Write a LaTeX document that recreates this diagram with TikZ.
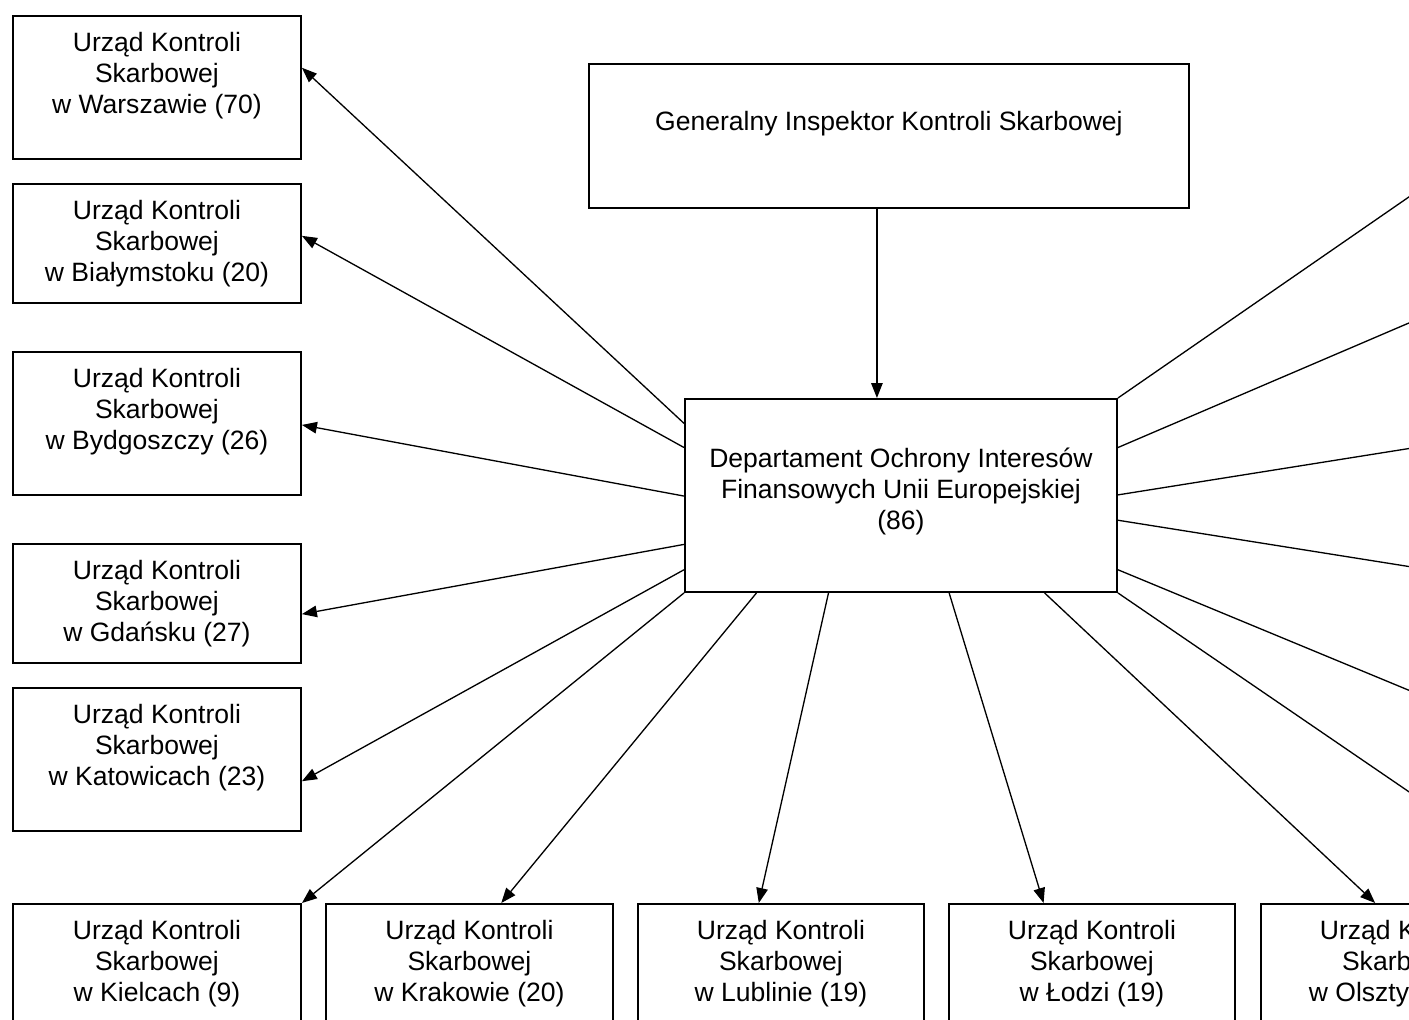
\documentclass[tikz,border=0pt]{standalone}
\usepackage{fontspec}
\setmainfont{Liberation Sans}
\usetikzlibrary{arrows.meta,calc}
\newlength{\pxu}\setlength{\pxu}{0.02cm}
\newcommand{\boxtext}[4]{\parbox[t][#2\pxu][t]{#1\pxu}{\centering\rule{0pt}{#3\pxu}#4}}
\newcommand{\office}[5]{\node[office] (#1) at (#2,#3) {\boxtext{#4}{143}{36}{#5}};}
\tikzset{
  office/.style={draw, line width=1.1pt, anchor=north west, inner sep=0pt, font=\fontsize{15.1}{17.4}\selectfont},
  link/.style={line width=0.75pt, -{Triangle[length=0.3cm, width=0.23cm]}}
}

\begin{document}
\begin{tikzpicture}[x=0.02cm, y=-0.02cm]
    \useasboundingbox (0,0) rectangle (1409,1019);
    \clip (0,0) rectangle (1409,1019);
    % top
    \node[office] (gen) at (588,63) {\boxtext{600}{144}{67}{Generalny Inspektor Kontroli Skarbowej}};
    \node[office] (dep) at (684,398) {\boxtext{432}{193}{69}{Departament Ochrony Interesów\\Finansowych Unii Europejskiej\\(86)}};
    % left column
    \office{waw}{12}{15}{288}{Urząd Kontroli\\Skarbowej\\w Warszawie (70)}
    \node[office] (bia) at (12,183) {\boxtext{288}{119}{36}{Urząd Kontroli\\Skarbowej\\w Białymstoku (20)}};
    \office{byd}{12}{351}{288}{Urząd Kontroli\\Skarbowej\\w Bydgoszczy (26)}
    \node[office] (gda) at (12,543) {\boxtext{288}{119}{36}{Urząd Kontroli\\Skarbowej\\w Gdańsku (27)}};
    \office{kat}{12}{687}{288}{Urząd Kontroli\\Skarbowej\\w Katowicach (23)}
    % bottom row
    \office{kie}{12}{903}{288}{Urząd Kontroli\\Skarbowej\\w Kielcach (9)}
    \office{kra}{325}{903}{287}{Urząd Kontroli\\Skarbowej\\w Krakowie (20)}
    \office{lub}{637}{903}{286}{Urząd Kontroli\\Skarbowej\\w Lublinie (19)}
    \office{lodz}{948}{903}{286}{Urząd Kontroli\\Skarbowej\\w Łodzi (19)}
    \office{ols}{1260}{903}{286}{Urząd K\phantom{ontroli}\\Skarb\phantom{owej}\\w Olszty\phantom{nie (19)}}
    % right side, boxes outside the page
    \coordinate (r1) at (1500,134);
    \coordinate (r2) at (1500,284);
    \coordinate (r3) at (1500,434);
    \coordinate (r4) at (1500,581);
    \coordinate (r5) at (1500,728);
    \coordinate (r6) at (1500,854);
    % links
    \coordinate (gs) at ($(gen.south west)!0.48!(gen.south east)$);
    \draw[link] (gs) -- (gs |- dep.north);
    \draw[link] ($(dep.north west)!0.13!(dep.south west)$) -- ($(waw.north east)!0.364!(waw.south east)$);
    \draw[link] ($(dep.north west)!0.254!(dep.south west)$) -- ($(bia.north east)!0.437!(bia.south east)$);
    \draw[link] ($(dep.north west)!0.503!(dep.south west)$) -- ($(byd.north east)!0.51!(byd.south east)$);
    \draw[link] ($(dep.north west)!0.751!(dep.south west)$) -- ($(gda.north east)!0.588!(gda.south east)$);
    \draw[link] ($(dep.north west)!0.881!(dep.south west)$) -- ($(kat.north east)!0.65!(kat.south east)$);
    \draw[link] (dep.south west) -- (kie.north east);
    \draw[link] ($(dep.south west)!0.167!(dep.south east)$) -- ($(kra.north west)!0.61!(kra.north east)$);
    \draw[link] ($(dep.south west)!0.333!(dep.south east)$) -- ($(lub.north west)!0.423!(lub.north east)$);
    \draw[link] ($(dep.south west)!0.611!(dep.south east)$) -- ($(lodz.north west)!0.332!(lodz.north east)$);
    \draw[link] ($(dep.south west)!0.831!(dep.south east)$) -- ($(ols.north west)!0.40!(ols.north east)$);
    \draw[link] (dep.north east) -- (r1);
    \draw[link] ($(dep.north east)!0.254!(dep.south east)$) -- (r2);
    \draw[link] ($(dep.north east)!0.497!(dep.south east)$) -- (r3);
    \draw[link] ($(dep.north east)!0.627!(dep.south east)$) -- (r4);
    \draw[link] ($(dep.north east)!0.881!(dep.south east)$) -- (r5);
    \draw[link] (dep.south east) -- (r6);
\end{tikzpicture}
\end{document}
